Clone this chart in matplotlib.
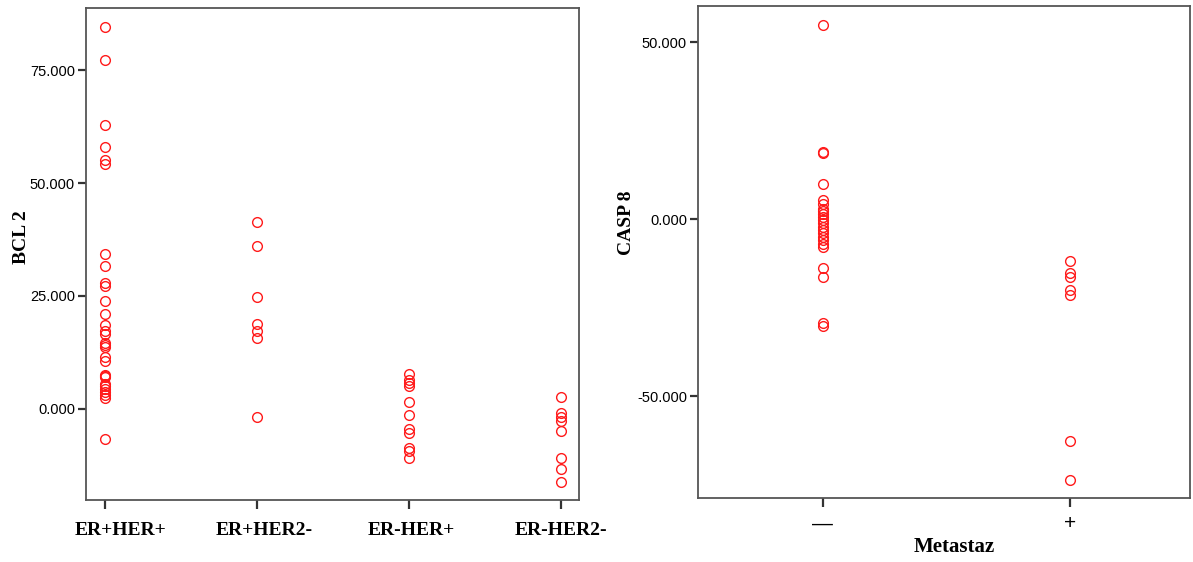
import matplotlib
matplotlib.use("Agg")
import matplotlib.pyplot as plt
from matplotlib.transforms import ScaledTranslation

groups = ["ER+HER+", "ER+HER2-", "ER-HER+", "ER-HER2-"]
bcl2_er_her_pos = [84.6, 77.3, 62.9, 58.1, 55.1, 54.2, 34.2, 31.7, 27.9, 27.3,
                   23.9, 21.0, 18.6, 17.3, 16.5, 14.6, 14.2, 13.8, 11.5, 10.7,
                   7.6, 7.3, 7.0, 5.6, 5.0, 4.4, 3.8, 3.1, 2.3, -6.7]
bcl2_er_pos_her2_neg = [41.4, 36.1, 24.7, 18.8, 17.3, 15.6, -1.8]
bcl2_er_neg_her_pos = [7.8, 6.5, 5.8, 5.0, 1.6, -1.4, -4.5, -5.4, -8.7, -9.3, -10.9]
bcl2_er_her2_neg = [2.7, -1.0, -1.8, -2.6, -4.8, -10.8, -13.4, -16.2]
bcl2 = [bcl2_er_her_pos, bcl2_er_pos_her2_neg, bcl2_er_neg_her_pos, bcl2_er_her2_neg]

metastaz = ["\u2014", "+"]
casp8_neg = [54.8, 19.0, 18.6, 9.8, 5.4, 4.3, 3.0, 2.2, 1.5, 0.5, -0.3, -1.2,
             -2.2, -3.0, -4.0, -5.0, -5.9, -7.0, -7.8, -13.8, -16.2, -29.2, -30.2]
casp8_pos = [-11.9, -15.3, -16.3, -20.1, -21.5, -62.6, -73.7]
casp8 = [casp8_neg, casp8_pos]

serif = {"family": "Liberation Serif", "weight": "bold"}
plt.rcParams["font.family"] = "Liberation Sans"

fig = plt.figure(figsize=(11.93, 5.62), dpi=100)
ax1 = fig.add_axes([0.0721, 0.1103, 0.4132, 0.8754])
ax2 = fig.add_axes([0.5851, 0.1130, 0.4124, 0.8763])


def style(ax):
    for s in ax.spines.values():
        s.set_color("#555555")
        s.set_linewidth(1.3)
    ax.tick_params(axis="both", direction="out", length=6.5, width=1.6,
                   color="#333333", labelsize=10.5, pad=2)
    ax.tick_params(axis="y", length=6)


def dots(ax, x, ys):
    ax.plot([x] * len(ys), ys, linestyle="none", marker="o", markersize=7,
            markerfacecolor="none", markeredgecolor="#ff1a1a", markeredgewidth=1)


style(ax1)
ax1.tick_params(axis="x", pad=9)
for i, ys in enumerate(bcl2):
    dots(ax1, i + 1, ys)
ax1.set_xlim(0.875, 4.12)
ax1.set_ylim(-20.2, 88.8)
ax1.set_yticks([0, 25, 50, 75])
ax1.set_yticklabels(["0.000", "25.000", "50.000", "75.000"])
ax1.set_xticks([1, 2, 3, 4])
ax1.set_xticklabels(groups, fontdict=serif, fontsize=14)
ax1.set_ylabel("BCL 2", fontdict=serif, fontsize=14)
ax1.yaxis.set_label_coords(-0.114, 0.535)
# the first two category labels sit a little right of their ticks
for lab, dx in zip(ax1.get_xticklabels(), [16, 7, 2, 0]):
    lab.set_transform(lab.get_transform() + ScaledTranslation(dx / 100, 0, fig.dpi_scale_trans))

style(ax2)
ax2.tick_params(axis="x", pad=5)
for i, ys in enumerate(casp8):
    dots(ax2, i, ys)
ax2.set_xlim(-0.505, 1.487)
ax2.set_ylim(-78.9, 60.2)
ax2.set_yticks([-50, 0, 50])
ax2.set_yticklabels(["-50.000", "0.000", "50.000"])
ax2.set_xticks([0, 1])
ax2.set_xticklabels(metastaz, fontsize=15)
ax2.set_ylabel("CASP 8", fontdict=serif, fontsize=14)
ax2.yaxis.set_label_coords(-0.128, 0.559)
ax2.set_xlabel("Metastaz", fontdict=serif, fontsize=15)
ax2.xaxis.set_label_coords(0.52, -0.079)

fig.savefig("out.png", dpi=100)
